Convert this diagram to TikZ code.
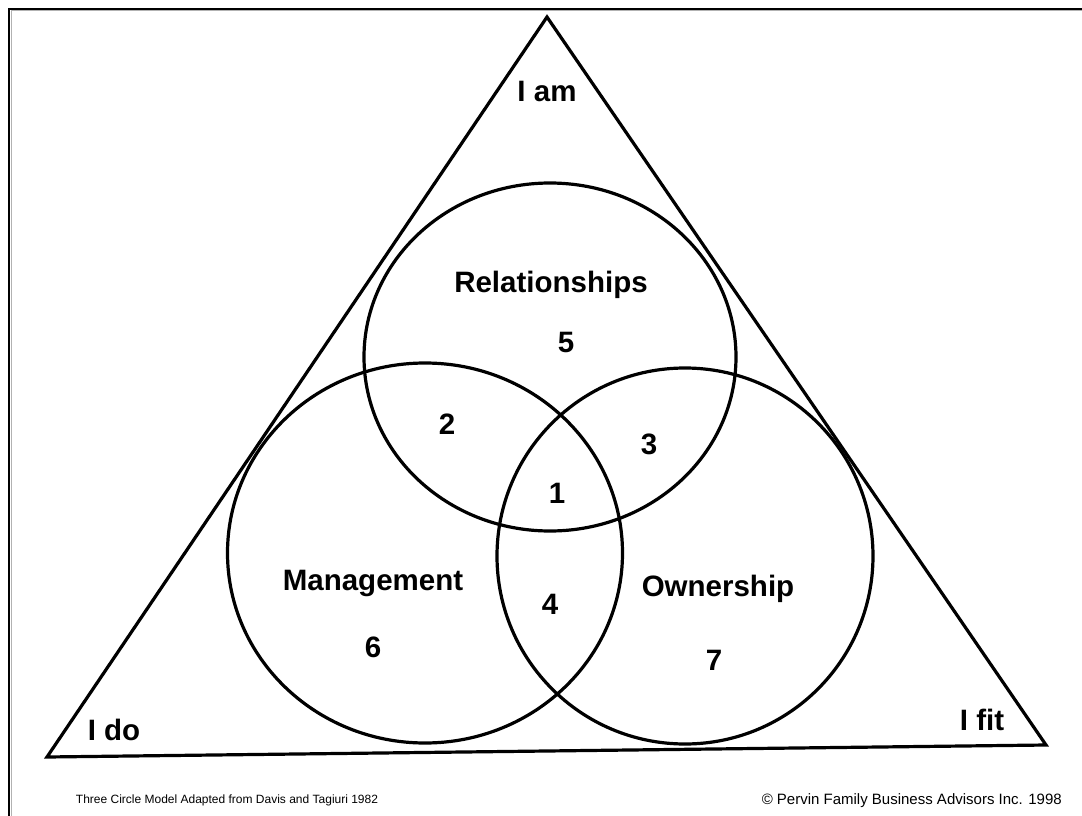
\documentclass[tikz,border=0pt]{standalone}
\usepackage{fontspec}
\setmainfont{Liberation Sans}
\usepackage{tikz}
\usetikzlibrary{positioning, calc, shapes.geometric}
\tikzstyle{ring} = [ellipse, draw=black, line width=3.2pt, inner sep=0pt]
\tikzstyle{label} = [anchor=base, inner sep=0pt, font=\fontsize{29.5}{34}\selectfont\bfseries]
\tikzstyle{foot} = [anchor=base, inner sep=0pt]

\begin{document}
\begin{tikzpicture}[x=1pt, y=-1pt]
        \useasboundingbox (0,0) rectangle (1082,816);
        % frame
        \begin{scope}
            \clip (0,0) rectangle (1082,816);
            \draw [gray!60, line width=1pt] (11,11) rectangle (1100,840);
            \draw [line width=2.5pt] (9,9) rectangle (1100,840);
        \end{scope}
        % triangle
        \coordinate (top) at (547,17);
        \coordinate (left) at (47,757);
        \coordinate (right) at (1046,745);
        \draw [line width=3.2pt, line join=miter] (top) -- (right) -- (left) -- cycle;
        % circles
        \node (family) [ring, minimum width=372pt, minimum height=348pt] at (550,357) {};
        \node (business) [ring, minimum width=395pt, minimum height=380pt] at (425,553) {};
        \node (owners) [ring, minimum width=376pt, minimum height=376pt] at (685,556) {};
        % corner texts
        \node (am) [label] at (547,102) {I am};
        \node (do) [label] at (114,740) {I do};
        \node (fit) [label] at (982,730) {I fit};
        % circle names
        \node (rel) [label] at (551,292) {Relationships};
        \node (man) [label] at (373,590) {Management};
        \node (own) [label] at (718,596) {Ownership};
        % sectors
        \node (s1) [label] at (557,503) {1};
        \node (s2) [label] at (447,434) {2};
        \node (s3) [label] at (649,454) {3};
        \node (s4) [label] at (550,614) {4};
        \node (s5) [label] at (566,352) {5};
        \node (s6) [label] at (373,657) {6};
        \node (s7) [label] at (714,670) {7};
        % footer
        \node (source) [foot, font=\fontsize{12}{14}\selectfont] at (227,803) {Three Circle Model Adapted from Davis and Tagiuri 1982};
        \node (copy) [foot, anchor=base east, font=\fontsize{15}{18}\selectfont] at (1062,804) {© Pervin Family Business Advisors Inc. 1998};
    \end{tikzpicture}
\end{document}
